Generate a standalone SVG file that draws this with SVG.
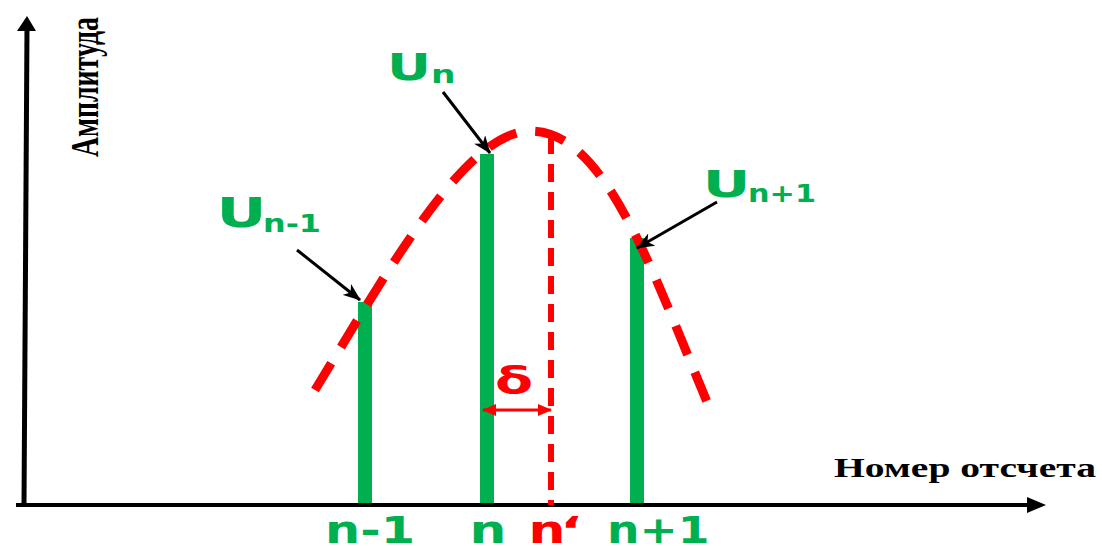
<svg xmlns="http://www.w3.org/2000/svg" width="1102" height="546" viewBox="0 0 1102 546">
<style>
.g{fill:#00B050;font-family:"DejaVu Sans",Verdana,sans-serif;font-weight:bold}
.r{fill:#FF0000;font-family:"DejaVu Sans",Verdana,sans-serif;font-weight:bold}
.ax{font-family:"Liberation Serif","Times New Roman",serif;font-weight:bold;fill:#000}
.bar{fill:#00B050}
.blk{stroke:#000;stroke-width:3;fill:none}
</style>
<defs>
<marker id="ah" markerUnits="userSpaceOnUse" markerWidth="18" markerHeight="14" refX="17" refY="7" orient="auto">
<path d="M0,0 L18,7 L0,14 L5,7 z" fill="#000"/>
</marker>
<marker id="rh" markerUnits="userSpaceOnUse" markerWidth="14" markerHeight="12" refX="13" refY="6" orient="auto-start-reverse">
<path d="M0,0 L14,6 L0,12 z" fill="#FF0000"/>
</marker>
</defs>
<rect width="1102" height="546" fill="#fff"/>
<g id="axes">
<line x1="24" y1="505" x2="27" y2="28" stroke="#000" stroke-width="5"/>
<polygon points="27,16 36,31 17,31" fill="#000"/>
<line x1="16" y1="505" x2="1030" y2="505" stroke="#000" stroke-width="4"/>
<polygon points="1046,505 1027,497 1027,513" fill="#000"/>
<text class="ax" font-size="28" text-anchor="middle" textLength="140" lengthAdjust="spacingAndGlyphs" transform="translate(98,87) scale(1.4,1) rotate(-90)">Амплитуда</text>
<text class="ax" font-size="28" x="834" y="477" textLength="262" lengthAdjust="spacingAndGlyphs">Номер отсчета</text>
</g>
<g id="bar-n-1"><rect class="bar" x="358" y="302" width="14" height="201"/></g>
<g id="bar-n"><rect class="bar" x="480" y="154" width="14" height="349"/></g>
<g id="bar-n+1"><rect class="bar" x="630" y="238" width="14" height="265"/></g>
<g id="curve">
<path d="M315,390 C397,255 468,131 531,131 C604,131 650,265 707,402" fill="none" stroke="#FF0000" stroke-width="9" stroke-dasharray="31 19"/>
<path d="M551,136 V505" fill="none" stroke="#FF0000" stroke-width="6" stroke-dasharray="18 10"/>
</g>
<g id="connectors">
<line class="blk" x1="443" y1="92" x2="490" y2="153" marker-end="url(#ah)"/>
<line class="blk" x1="297" y1="250" x2="360" y2="300" marker-end="url(#ah)"/>
<line class="blk" x1="717" y1="202" x2="637" y2="248" marker-end="url(#ah)"/>
<line x1="483" y1="410" x2="551" y2="410" stroke="#FF0000" stroke-width="3" marker-start="url(#rh)" marker-end="url(#rh)"/>
</g>
<g id="label-Un">
<text class="g" x="387" y="80" font-size="38" textLength="44" lengthAdjust="spacingAndGlyphs">U</text>
<text class="g" x="431" y="83" font-size="24" textLength="24.5" lengthAdjust="spacingAndGlyphs">n</text>
</g>
<g id="label-Un-1">
<text class="g" x="216.5" y="227" font-size="40" textLength="50" lengthAdjust="spacingAndGlyphs">U</text>
<text class="g" x="263" y="232" font-size="24" textLength="58" lengthAdjust="spacingAndGlyphs">n-1</text>
</g>
<g id="label-Un+1">
<text class="g" x="702.7" y="197" font-size="37" textLength="47.6" lengthAdjust="spacingAndGlyphs">U</text>
<text class="g" x="748" y="202" font-size="24" textLength="68" lengthAdjust="spacingAndGlyphs">n+1</text>
</g>
<g id="label-delta">
<text class="r" x="495" y="393" font-size="38" textLength="38" lengthAdjust="spacingAndGlyphs">δ</text>
</g>
<g id="tick-labels">
<text class="g" x="325" y="543" font-size="37" textLength="90" lengthAdjust="spacingAndGlyphs">n-1</text>
<text class="g" x="469.6" y="543" font-size="37" textLength="36.9" lengthAdjust="spacingAndGlyphs">n</text>
<text class="r" x="528.6" y="543" font-size="37" textLength="36.9" lengthAdjust="spacingAndGlyphs">n</text>
<text class="r" x="560" y="543" font-size="37" textLength="22" lengthAdjust="spacingAndGlyphs">‘</text>
<text class="g" x="607" y="543" font-size="37" textLength="102.5" lengthAdjust="spacingAndGlyphs">n+1</text>
</g>
</svg>
